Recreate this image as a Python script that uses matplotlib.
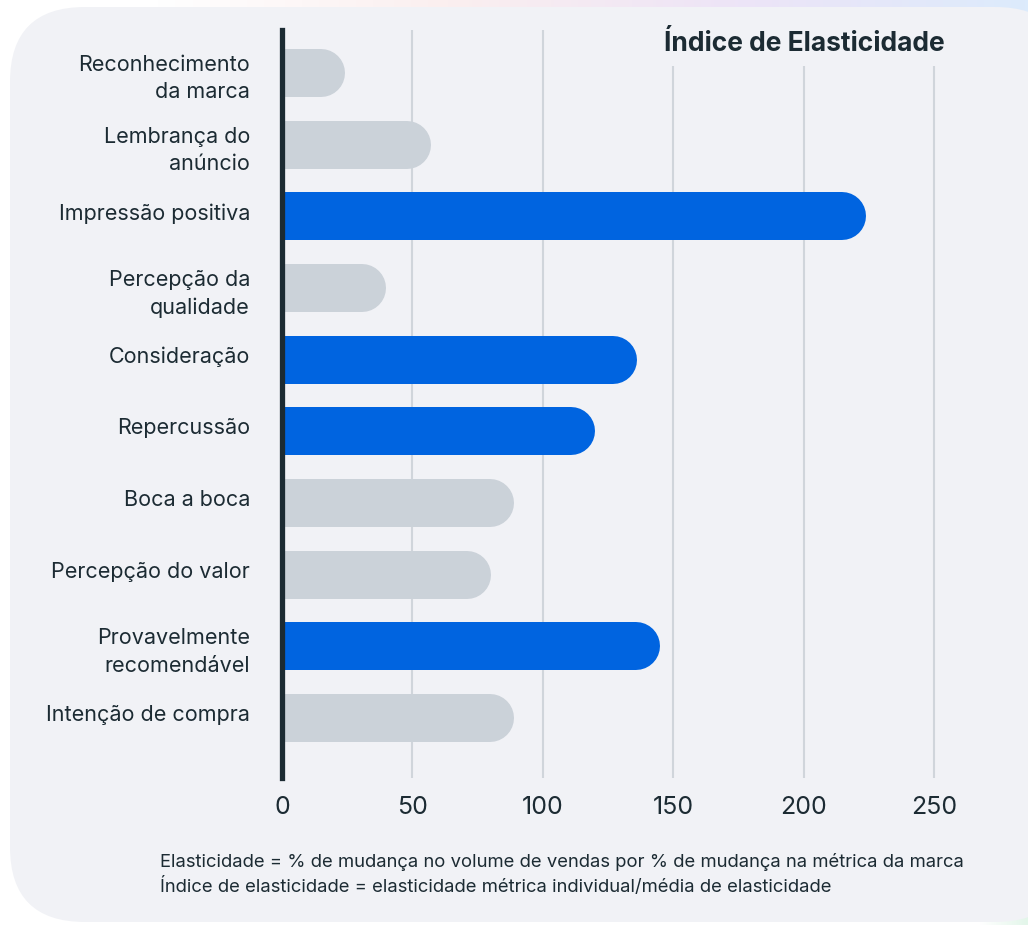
import numpy as np
import matplotlib.pyplot as plt
from matplotlib.patches import FancyBboxPatch
from matplotlib.colors import LinearSegmentedColormap
from matplotlib.transforms import ScaledTranslation

plt.rcParams['font.family'] = ['Inter', 'DejaVu Sans']

categories = ['Reconhecimento\nda marca', 'Lembrança do\nanúncio', 'Impressão positiva',
              'Percepção da\nqualidade', 'Consideração', 'Repercussão', 'Boca a boca',
              'Percepção do valor', 'Provavelmente\nrecomendável', 'Intenção de compra']
values = [24, 57, 224, 40, 136, 120, 89, 80, 145, 89]
highlight = [False, False, True, False, True, True, False, False, True, False]
xticks = [0, 50, 100, 150, 200, 250]
title = 'Índice de Elasticidade'
notes = ['Elasticidade = % de mudança no volume de vendas por % de mudança na métrica da marca',
         'Índice de elasticidade = elasticidade métrica individual/média de elasticidade']

dark = '#1C2B33'
blue = '#0064E0'
gray = '#CBD2D9'
card = '#F1F2F6'

W, H = 1028, 925
fig = plt.figure(figsize=(W / 100, H / 100), dpi=100)
fig.patch.set_facecolor('white')

# soft gradient behind the card
bg = fig.add_axes([0, 0, 1, 1], zorder=-10)
bg.set_axis_off()
cmap = LinearSegmentedColormap.from_list('bgc', ['#FFFFFF', '#FBEFEF', '#EDE4F7', '#DCEBFC'])
grad = np.tile(np.linspace(0, 1, 256), (2, 1))
bg.imshow(grad, cmap=cmap, extent=[155, W, H - 20, H], aspect='auto')
bg.imshow(np.tile(np.linspace(0, 1, 64), (2, 1)), extent=[980, W, 0, 60], aspect='auto',
          cmap=LinearSegmentedColormap.from_list('g', ['#FFFFFF', '#E3F6EA']))
bg.set_xlim(0, W)
bg.set_ylim(0, H)
bg.add_patch(FancyBboxPatch((10, 3), 1060, 915, boxstyle='round,pad=0,rounding_size=75',
                            fc=card, ec='none'))

ax_w = 680
xmax = ax_w / 130.4 * 50
ax = fig.add_axes([282 / W, 1 - 778 / H, ax_w / W, 748 / H])
ax.set_facecolor('none')
n = len(categories)
y = np.arange(n)
ax.set_xlim(0, xmax)
ax.set_ylim(n - 1 + 0.837, -0.6)

# bar thickness in pixels and cap radius in data units
px_per_x = ax_w / xmax
bar_px = 48
r = (bar_px / 2) / px_per_x
for yi, v, hl in zip(y, values, highlight):
    ax.plot([0, v - r], [yi, yi], color=blue if hl else gray, lw=bar_px * 72 / 100,
            solid_capstyle='round', zorder=3)

ax.set_xticks(xticks)
ax.set_xticklabels([str(t) for t in xticks], fontsize=18, color=dark)
ax.set_yticks(y)
ax.set_yticklabels(categories, fontsize=15.5, color=dark, linespacing=1.45)
ax.tick_params(axis='both', length=0)
ax.tick_params(axis='x', pad=13)
ax.tick_params(axis='y', pad=23)
# single-line labels sit a little above the bar centre
for lab in ax.get_yticklabels():
    if '\n' not in lab.get_text():
        lab.set_transform(lab.get_transform() + ScaledTranslation(0, 5 / 100, fig.dpi_scale_trans))
ax.grid(axis='x', color='#D0D5DB', lw=1.5, zorder=1)
ax.set_axisbelow(True)
for s in ['top', 'right', 'bottom']:
    ax.spines[s].set_visible(False)
ax.spines['left'].set_color(dark)
ax.spines['left'].set_linewidth(3.8)
ax.spines['left'].set_zorder(5)

ax.text(254, -0.41, title, ha='right', va='center', fontsize=19, fontweight='bold',
        color=dark, zorder=4,
        bbox=dict(boxstyle='square,pad=0.35', fc=card, ec='none'))

fig.text(160 / W, 1 - 862 / H, notes[0], fontsize=13.3, color=dark, va='center')
fig.text(160 / W, 1 - 886 / H, notes[1], fontsize=13.3, color=dark, va='center')

fig.savefig('out.png', dpi=100, facecolor=fig.get_facecolor())
